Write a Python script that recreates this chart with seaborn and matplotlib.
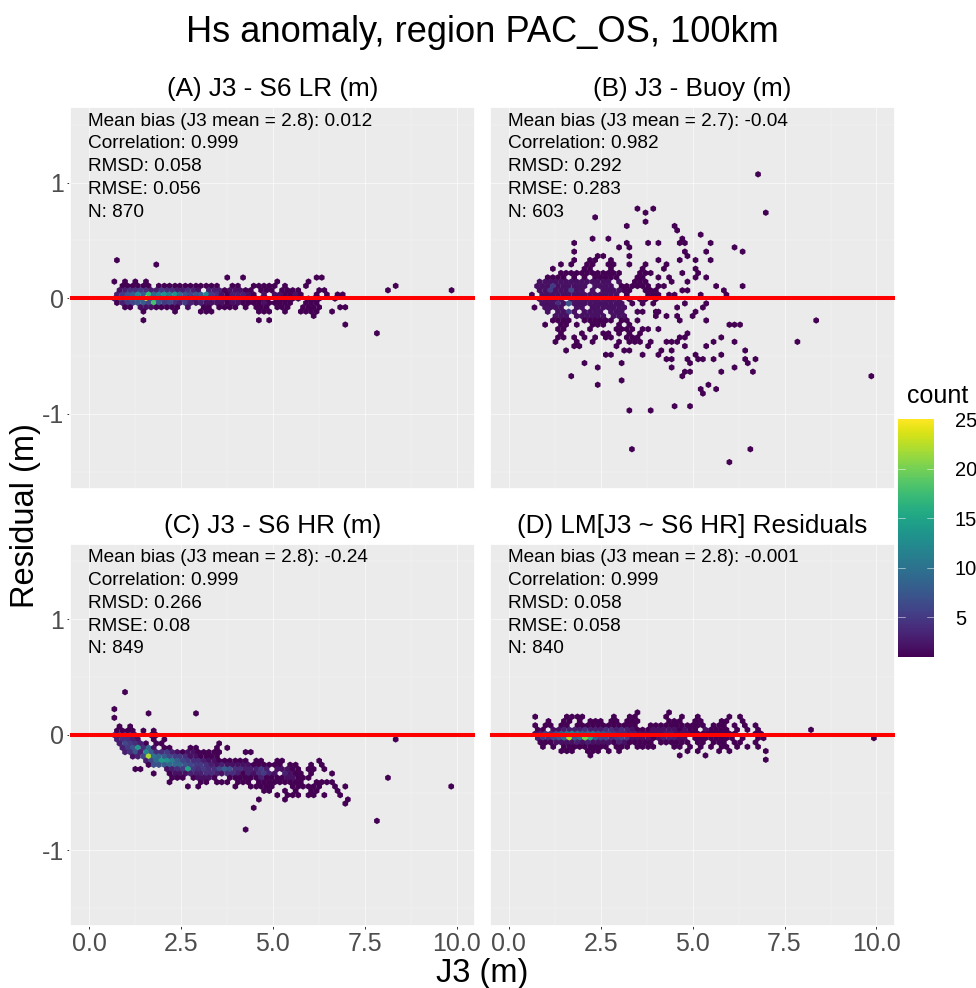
import matplotlib
matplotlib.use("Agg")
import matplotlib.pyplot as plt
import numpy as np
import pandas as pd
import seaborn as sns

# hexagon cells: (residual, [J3 ...], count or [counts])
a_rows = [
    (0.329, [0.76], 1), (0.291, [1.83], 1),
    (0.179, [3.76, 4.19, 6.19, 6.33], 1),
    (0.144, [0.69, 0.98, 1.26, 1.55, 5.12, 5.97], 1),
    (0.107, [0.91, 1.05, 1.19, 1.33, 1.48, 1.62, 1.90, 2.05, 2.19, 2.34, 2.47, 2.62, 2.76, 2.91, 3.04, 3.19, 3.33, 3.48, 3.90, 4.05, 4.48, 4.62, 4.76, 4.90, 5.05, 5.33, 5.90], 1),
    (0.069, [0.83, 0.98, 1.12, 1.26, 1.40, 1.55, 1.69, 1.83, 1.97, 2.12, 2.26, 2.40, 2.55, 2.69, 2.84, 2.97, 3.26, 3.41, 3.54, 3.69, 3.83, 3.98, 4.11, 4.26, 4.40, 4.68, 4.83, 4.97, 5.25, 5.40, 5.54, 5.69, 6.26, 6.40, 8.13],
     [2, 3, 4, 4, 5, 4, 3, 3, 5, 4, 4, 3, 3, 4, 3, 2, 3, 3, 3, 1, 2, 2, 2, 1, 1, 1, 1, 1, 1, 1, 1, 1, 1, 1, 1]),
    (0.032, [0.76, 0.91, 1.05, 1.19, 1.33, 1.48, 1.62, 1.76, 1.90, 2.05, 2.19, 2.34, 2.47, 2.62, 2.76, 2.91, 3.04, 3.19, 3.33, 3.48, 3.61, 3.76, 3.90, 4.05, 4.19, 4.33, 4.48, 4.76, 5.05, 5.19, 5.33, 5.47, 5.62, 5.76, 6.19, 6.47, 6.76, 6.90],
     [3, 5, 7, 8, 12, 8, 17, 9, 11, 13, 11, 13, 9, 7, 6, 7, 8, 12, 5, 4, 2, 1, 3, 3, 3, 2, 1, 2, 2, 2, 1, 1, 2, 1, 1, 1, 1, 1]),
    (-0.003, [0.69, 0.83, 0.98, 1.12, 1.26, 1.40, 1.55, 1.69, 1.83, 1.97, 2.12, 2.26, 2.40, 2.55, 2.69, 2.84, 2.97, 3.12, 3.26, 3.41, 3.54, 3.69, 3.83, 3.98, 4.11, 4.26, 4.40, 4.55, 4.68, 4.83, 5.12, 5.25, 5.40, 5.54, 5.69, 5.97, 6.11, 6.26, 6.69],
     [3, 6, 7, 8, 10, 10, 25, 9, 10, 7, 6, 8, 6, 6, 4, 3, 5, 6, 3, 4, 3, 2, 2, 3, 2, 2, 2, 1, 1, 1, 1, 1, 1, 1, 1, 1, 1, 1, 1]),
    (-0.040, [0.76, 0.91, 1.05, 1.19, 1.33, 1.48, 1.62, 1.76, 1.90, 2.05, 2.19, 2.34, 2.47, 2.62, 2.76, 2.91, 3.04, 3.19, 3.33, 3.48, 3.61, 3.76, 3.90, 4.05, 4.19, 4.33, 4.48, 4.62, 4.76, 4.90, 5.05, 5.19, 5.33, 5.47, 5.90, 6.04, 6.19],
     [1, 3, 5, 6, 7, 8, 6, 18, 7, 5, 6, 4, 3, 5, 3, 2, 3, 2, 2, 2, 2, 1, 2, 2, 1, 1, 1, 1, 2, 1, 1, 1, 1, 1, 1, 1, 1]),
    (-0.078, [0.98, 1.12, 1.83, 1.97, 2.12, 2.26, 2.40, 3.12, 3.26, 3.54, 3.69, 3.83, 3.98, 4.26, 4.55, 4.68, 4.83, 5.12, 5.25, 5.40, 5.82, 5.97, 6.11, 6.26, 6.83, 6.97], 1),
    (-0.078, [1.40, 1.55, 1.69, 2.69], 2),
    (-0.115, [1.48, 2.34, 3.04, 3.19, 3.33, 4.62, 4.76, 4.90, 5.33, 5.76, 5.90, 6.04, 6.19, 6.61], 1),
    (-0.153, [6.11], 1),
    (-0.190, [1.48, 4.62, 4.90], 1),
    (-0.228, [6.97], 1),
    (-0.303, [7.83], 1),
    (0.069, [9.86], 1),
    (0.107, [8.34], 1),
]

b_rows = [
    (1.072, [6.78], 1), (0.775, [3.50, 3.93], 1), (0.740, [3.72, 6.99], 1),
    (0.700, [2.35], 1), (0.662, [3.72], 1), (0.625, [3.21, 4.51], 1),
    (0.587, [4.58], 1), (0.550, [5.22], 1), (0.515, [2.28, 2.71, 4.72], 1),
    (0.478, [1.78, 3.21, 3.79, 4.07, 4.65, 4.79, 5.49], 1),
    (0.440, [3.00, 3.28, 6.14], 1),
    (0.403, [1.78, 4.79, 5.37, 6.36], 1),
    (0.365, [2.42, 2.57, 3.28, 4.86], 1),
    (0.330, [1.78, 2.21, 2.35, 2.78, 4.07, 4.65, 5.08, 5.49], 1),
    (0.293, [1.42, 1.70, 2.13, 2.28, 2.71, 2.85, 3.28, 3.72, 4.29], 1),
    (0.255, [1.20, 2.06, 2.21, 2.78, 3.64, 4.22, 5.08], 1),
    (0.218, [1.42, 1.56, 1.70, 1.85, 1.99, 2.13, 2.28, 2.42, 2.57, 2.71, 2.85, 3.00, 3.57, 3.72, 3.86, 4.72, 5.15], 1),
    (0.180, [1.06, 1.20, 1.34, 1.49, 1.78, 2.06, 2.35, 2.49, 2.64, 2.78, 2.93, 3.50, 3.64, 4.07, 4.36, 5.08, 5.37], 1),
    (0.143, [0.84, 0.99, 1.13, 1.27, 1.42, 1.56, 1.70, 1.85, 1.99, 2.13, 2.28, 2.42, 2.57, 2.71, 3.00], 2),
    (0.143, [3.43, 3.57, 3.72, 4.43, 4.86], 1),
    (0.105, [0.77, 0.91, 1.06, 1.34, 1.49, 1.63, 1.78, 1.92, 2.06, 2.35, 2.49, 2.64, 2.78], 2),
    (0.105, [1.20], 5),
    (0.105, [3.07, 3.21, 3.36, 3.50, 3.64, 3.79, 4.07, 4.22, 5.64, 6.36], 1),
    (0.068, [0.84, 0.99, 1.27, 1.42, 1.56, 1.85, 1.99, 2.28, 2.57, 2.71, 2.85, 3.00], 2),
    (0.068, [1.13], 5), (0.068, [1.70], 6),
    (0.068, [3.14, 3.28, 3.72, 3.86, 4.00, 4.72, 4.86, 5.85], 1),
    (0.030, [0.91, 1.06, 1.20, 1.34, 1.49, 1.63, 1.78, 1.92, 2.06, 2.21, 2.35, 2.49, 2.64, 2.78, 2.93], 2),
    (0.030, [0.63, 3.21, 3.79, 3.93, 4.07, 4.36, 4.51, 5.22, 5.92], 1),
    (-0.007, [0.84, 0.99, 1.13, 1.27, 1.42, 1.70, 1.85, 1.99, 2.13, 2.28, 2.42, 2.57, 2.71, 2.85, 3.00], 2),
    (-0.007, [3.28, 3.57, 3.72, 4.00], 1),
    (-0.045, [0.91, 1.06, 1.20, 1.49, 1.78, 1.92, 2.06, 2.21, 2.35, 2.49, 2.64, 2.78, 2.93, 3.07], 2),
    (-0.045, [1.34], 4), (-0.045, [1.63], 7),
    (-0.045, [3.36, 3.64, 3.93, 4.79, 5.37], 1),
    (-0.080, [0.99, 1.13, 1.27, 1.42, 1.85, 1.99, 2.28, 2.42, 2.57, 2.71, 2.85, 3.00, 3.14], 2),
    (-0.080, [0.70, 4.58, 5.28], 1),
    (-0.117, [1.06, 1.34, 1.49, 1.78, 2.06, 2.21, 2.35, 2.49, 2.78, 2.93, 3.07], 2),
    (-0.117, [1.63], 5),
    (-0.117, [3.50, 3.64, 4.00, 4.07, 5.08], 1),
    (-0.154, [1.27, 1.42, 1.56, 1.85, 1.99, 2.13, 2.28, 2.42, 2.57, 2.85, 3.00, 3.14], 2),
    (-0.154, [4.00, 4.29, 4.58, 5.00], 1),
    (-0.192, [1.20, 1.34, 1.49, 1.63, 2.06, 2.21, 2.35, 2.49, 2.64, 2.78, 3.07, 3.21], 1),
    (-0.192, [3.50, 4.65, 5.37, 8.36], 1),
    (-0.229, [0.99, 1.42, 1.56, 1.85, 2.28, 2.42, 2.57, 3.00, 3.28, 6.00, 6.14, 6.29], 1),
    (-0.267, [1.34, 1.49, 2.21, 2.93, 3.07, 3.21, 3.36, 3.64, 3.79, 4.07], 1),
    (-0.304, [1.42, 1.99, 2.57, 2.71, 3.00, 3.28, 3.57, 4.86], 1),
    (-0.339, [1.34, 1.49, 1.78, 2.06, 2.35, 2.64, 2.78, 3.21, 3.36, 3.50, 4.65, 4.79, 5.78], 1),
    (-0.377, [1.27, 1.85, 2.28, 3.00, 3.28, 3.43, 3.57, 3.86, 4.29, 4.43, 4.58, 5.57, 6.14, 7.85], 1),
    (-0.414, [1.78, 1.92, 2.93, 3.79, 4.79, 5.37], 1),
    (-0.452, [1.56, 3.14, 3.28, 4.15, 4.43, 6.43], 1),
    (-0.489, [2.64, 2.78, 3.64, 4.07, 5.08, 5.78], 1),
    (-0.527, [4.29, 4.43, 4.86, 5.15, 5.28, 5.57, 6.43, 6.71], 1),
    (-0.561, [2.06, 3.07, 4.93, 6.50], 1),
    (-0.599, [2.42, 4.43, 6.14], 1),
    (-0.636, [4.79, 4.93, 5.78, 6.64], 1),
    (-0.674, [1.70, 4.72, 9.86], 1),
    (-0.711, [3.07], 1), (-0.749, [2.42, 5.43], 1), (-0.786, [5.22, 5.64], 1),
    (-0.824, [5.28], 1), (-0.934, [4.51, 4.93], 1), (-0.971, [3.28, 3.86], 1),
    (-1.306, [3.35, 6.57], 1), (-1.418, [6.00], 1),
]

c_rows = [
    (0.369, [0.98], 1), (0.222, [0.69], 1), (0.185, [1.62, 2.91], 1),
    (0.147, [0.69], 1), (0.072, [0.83, 1.12], 1),
    (0.035, [0.76, 0.91, 1.05, 1.19, 1.48, 1.76], 1),
    (-0.003, [0.69, 0.83, 0.98, 1.12, 1.26, 1.69, 1.83], [3, 4, 4, 3, 2, 1, 1]),
    (-0.040, [0.76, 0.91, 1.05, 1.19, 1.33, 1.76, 2.05, 8.34], [3, 4, 4, 3, 2, 1, 1, 1]),
    (-0.075, [0.83, 0.98, 1.12, 1.26, 1.40, 1.55, 1.83, 1.97, 3.54], [3, 6, 5, 4, 3, 1, 1, 1, 1]),
    (-0.113, [0.91, 1.05, 1.19, 1.33, 1.48, 1.62, 1.76, 2.05, 2.19, 2.76, 2.91, 3.48, 3.76], [3, 5, 7, 14, 4, 9, 2, 1, 1, 1, 1, 1, 1]),
    (-0.150, [0.98, 1.12, 1.26, 1.40, 1.55, 1.69, 1.83, 1.97, 2.12, 2.26, 2.40, 2.55, 2.69, 2.84, 2.97, 3.12, 3.26, 3.41, 3.54, 4.26, 4.40],
     [3, 4, 7, 3, 12, 8, 4, 4, 5, 3, 2, 1, 2, 2, 1, 1, 1, 1, 1, 1, 1]),
    (-0.188, [1.19, 1.33, 1.48, 1.62, 1.76, 1.90, 2.05, 2.19, 2.34, 2.47, 2.62, 2.76, 2.91, 3.04, 3.19, 3.33, 3.48],
     [2, 3, 6, 22, 10, 9, 8, 6, 5, 5, 4, 2, 2, 1, 1, 1, 1]),
    (-0.225, [1.55, 1.69, 1.83, 1.97, 2.12, 2.26, 2.40, 2.55, 2.69, 2.84, 2.97, 3.12, 3.26, 3.41, 3.54, 3.69, 3.83, 3.98, 4.11, 4.26, 4.55, 4.68, 5.12, 5.25, 6.26],
     [3, 6, 9, 14, 13, 11, 8, 6, 5, 4, 4, 3, 2, 2, 1, 1, 1, 1, 1, 1, 1, 1, 1, 1, 1]),
    (-0.260, [1.62, 1.76, 1.90, 2.05, 2.19, 2.34, 2.47, 2.62, 2.76, 2.91, 3.04, 3.19, 3.33, 3.48, 3.61, 3.76, 3.90, 4.05, 4.19, 4.33, 4.48, 4.62, 4.76, 4.90, 5.05, 5.19, 5.47, 5.62, 6.04, 6.33],
     [1, 7, 7, 8, 9, 9, 9, 7, 6, 5, 5, 4, 3, 2, 3, 2, 2, 2, 2, 2, 1, 1, 1, 1, 1, 1, 1, 1, 1, 1]),
    (-0.297, [1.26, 1.40, 2.12, 2.26, 2.40, 2.55, 2.69, 2.84, 2.97, 3.12, 3.26, 3.41, 3.54, 3.69, 3.83, 3.98, 4.11, 4.26, 4.40, 4.55, 4.68, 4.83, 5.12, 5.25, 5.40, 5.54, 5.69, 5.97, 6.11, 6.40],
     [1, 1, 2, 3, 4, 5, 15, 5, 4, 5, 4, 4, 6, 8, 7, 4, 4, 3, 3, 3, 5, 3, 2, 2, 2, 1, 1, 1, 1, 1]),
    (-0.335, [1.76, 2.19, 2.34, 2.47, 2.62, 2.76, 2.91, 3.04, 3.19, 3.33, 3.48, 3.61, 3.76, 3.90, 4.05, 4.19, 4.33, 4.48, 4.62, 4.76, 4.90, 5.05, 5.33, 5.47, 5.62, 5.76, 6.04, 6.61],
     [1, 1, 2, 2, 2, 3, 3, 3, 4, 4, 3, 2, 4, 4, 3, 1, 3, 2, 4, 5, 3, 2, 3, 2, 1, 1, 1, 1]),
    (-0.372, [2.26, 2.40, 2.55, 2.84, 2.97, 3.12, 3.26, 3.41, 3.83, 3.98, 4.11, 4.26, 4.40, 4.55, 4.68, 4.83, 4.97, 5.12, 5.25, 5.40, 5.54, 5.69, 5.82, 5.97, 8.13],
     [1, 1, 1, 1, 2, 2, 2, 1, 1, 1, 1, 1, 1, 1, 3, 1, 1, 1, 1, 2, 2, 1, 1, 1, 1]),
    (-0.410, [2.19, 3.04, 3.19, 3.48, 3.61, 3.76, 4.05, 4.19, 4.33, 4.62, 4.76, 4.90, 5.05, 5.19, 5.33, 5.47, 5.62, 5.76, 6.19, 6.33, 6.47, 6.61], 1),
    (-0.447, [2.69, 2.97, 3.98, 4.40, 4.55, 4.68, 4.83, 4.97, 5.54, 5.69, 5.82, 5.97, 6.11, 6.26, 6.69, 6.97, 9.85], 1),
    (-0.485, [4.76, 4.90, 5.33, 5.62, 6.04, 6.19, 6.76], 1),
    (-0.522, [5.12, 5.40, 5.54, 5.69, 5.97, 6.11, 6.40, 6.83], 1),
    (-0.560, [4.62, 5.33, 7.04], 1), (-0.595, [6.97], 1), (-0.632, [4.48], 1),
    (-0.745, [7.83], 1), (-0.820, [4.26], 1),
]

d_rows = [
    (0.193, [3.50, 4.36], 1),
    (0.156, [0.72, 1.58, 1.72, 1.87, 2.00, 2.86, 3.29, 3.43, 4.28, 4.71, 5.14, 6.00, 6.29], 1),
    (0.118, [1.08, 1.50, 1.65, 1.93, 2.22, 2.36, 2.50, 2.79, 2.93, 3.22, 3.36, 3.50, 4.36, 4.50, 4.65, 5.07, 5.22, 5.79, 5.92, 6.36], 1),
    (0.081, [0.72, 1.00, 1.14, 1.43, 1.58, 1.87, 2.00, 2.15, 2.29, 2.43, 2.57, 2.72, 2.86, 3.00, 3.14, 3.29, 3.43, 3.86, 4.00, 4.14, 4.28, 4.43, 4.57, 4.71, 4.86, 5.00, 5.14, 5.28, 5.57, 5.72, 5.85, 6.14, 6.42, 6.71], 1),
    (0.043, [0.79, 0.93, 1.21, 1.36, 1.50, 1.65, 1.79, 1.93, 2.07, 2.22, 2.36, 2.50, 2.64, 2.79, 2.93, 3.07, 3.22, 3.36, 3.50, 3.64, 3.79, 3.93, 4.08, 4.21, 4.36, 4.50, 4.65, 4.78, 4.93, 5.07, 5.35, 5.50, 5.64, 5.79, 5.92, 6.21, 6.49, 6.78, 8.22],
     [1, 1, 2, 2, 3, 3, 3, 3, 4, 3, 3, 3, 4, 4, 3, 4, 3, 2, 1, 1, 1, 2, 2, 2, 2, 2, 1, 2, 1, 1, 2, 1, 1, 1, 1, 1, 1, 1, 1]),
    (0.009, [0.72, 0.86, 1.00, 1.14, 1.29, 1.43, 1.58, 1.72, 1.87, 2.00, 2.15, 2.29, 2.43, 2.57, 2.72, 2.86, 3.00, 3.14, 3.29, 3.43, 3.57, 3.71, 3.86, 4.00, 4.14, 4.28, 4.43, 4.57, 4.71, 4.86, 5.00, 5.14, 5.28, 5.43, 5.57, 5.72, 5.85, 6.00, 6.14, 6.71, 6.86],
     [2, 3, 5, 4, 6, 8, 10, 12, 10, 8, 9, 10, 8, 7, 6, 5, 4, 4, 3, 3, 2, 2, 2, 2, 2, 3, 3, 2, 2, 2, 1, 1, 1, 1, 1, 1, 1, 1, 1, 1, 1]),
    (-0.029, [0.79, 0.93, 1.08, 1.21, 1.36, 1.50, 1.65, 1.79, 1.93, 2.07, 2.22, 2.36, 2.50, 2.64, 2.79, 2.93, 3.07, 3.22, 3.36, 3.50, 3.64, 3.79, 3.93, 4.08, 4.21, 4.36, 4.50, 4.65, 4.78, 5.07, 5.22, 5.35, 5.50, 5.64, 5.79, 5.92, 6.07, 6.36, 6.78, 6.93, 9.93],
     [3, 5, 4, 6, 7, 9, 22, 8, 10, 20, 16, 8, 6, 6, 4, 5, 6, 5, 2, 2, 2, 2, 1, 2, 3, 3, 3, 2, 2, 1, 1, 1, 1, 1, 1, 1, 1, 1, 1, 1, 1]),
    (-0.066, [0.86, 1.00, 1.14, 2.86, 3.29, 3.43, 3.57, 3.71, 3.86, 4.14, 4.28, 4.43, 4.57, 4.71, 4.86, 5.14, 5.28, 5.57, 5.72, 5.85, 6.14, 6.29, 6.71], 1),
    (-0.066, [1.29, 1.43, 1.58, 1.72, 2.00, 2.29, 2.43, 2.57, 2.72, 3.14], 2),
    (-0.066, [1.87, 2.15, 3.00], 3),
    (-0.104, [0.93, 1.21, 1.50, 1.65, 1.79, 1.93, 2.07, 2.22, 2.36, 2.50, 2.64, 2.93, 3.07, 3.22, 3.50, 3.64, 3.79, 3.93, 4.50, 4.65, 4.93, 5.22, 5.50, 5.79, 5.92, 6.21, 6.49, 6.78], 1),
    (-0.141, [1.43, 1.58, 1.72, 2.15, 2.29, 2.43, 2.72, 3.00, 4.86, 5.14, 5.72, 6.00, 6.99], 1),
    (-0.179, [2.22, 4.65, 5.35], 1),
    (-0.216, [6.99], 1),
]

panel_titles = ["(A) J3 - S6 LR (m)", "(B) J3 - Buoy (m)",
                "(C) J3 - S6 HR (m)", "(D) LM[J3 ~ S6 HR] Residuals"]
panel_stats = [
    ["Mean bias (J3 mean = 2.8): 0.012", "Correlation: 0.999", "RMSD: 0.058", "RMSE: 0.056", "N: 870"],
    ["Mean bias (J3 mean = 2.7): -0.04", "Correlation: 0.982", "RMSD: 0.292", "RMSE: 0.283", "N: 603"],
    ["Mean bias (J3 mean = 2.8): -0.24", "Correlation: 0.999", "RMSD: 0.266", "RMSE: 0.08", "N: 849"],
    ["Mean bias (J3 mean = 2.8): -0.001", "Correlation: 0.999", "RMSD: 0.058", "RMSE: 0.058", "N: 840"],
]
x_ticks = [0.0, 2.5, 5.0, 7.5, 10.0]
x_minor = [1.25, 3.75, 6.25, 8.75]
y_ticks = [-1, 0, 1]
y_minor = [-1.5, -0.5, 0.5, 1.5]
count_ticks = [5, 10, 15, 20, 25]


def cells(rows):
    out = []
    for y, xs, ns in rows:
        if np.isscalar(ns):
            ns = [ns] * len(xs)
        out.extend({"x": x, "y": y, "n": n} for x, n in zip(xs, ns))
    return pd.DataFrame(out)


sns.set_theme(style="darkgrid", rc={
    "axes.facecolor": "#EBEBEB",
    "text.color": "black",
    "grid.color": "white",
    "xtick.bottom": True,
    "ytick.left": True,
    "xtick.color": "#333333",
    "ytick.color": "#333333",
    "xtick.major.size": 2.5,
    "ytick.major.size": 2.5,
    "xtick.major.width": 0.7,
    "ytick.major.width": 0.7,
})
plt.rcParams["font.family"] = ["Liberation Sans", "DejaVu Sans"]

fig, axes = plt.subplots(2, 2, figsize=(9.76, 9.88), sharex=True, sharey=True)
fig.subplots_adjust(left=70 / 976, right=894.5 / 976, top=1 - 107.5 / 988,
                    bottom=1 - 925.5 / 988, wspace=15 / 404.5, hspace=55 / 381)

for ax, rows, title, stats in zip(axes.flat, [a_rows, b_rows, c_rows, d_rows],
                                  panel_titles, panel_stats):
    sns.scatterplot(data=cells(rows), x="x", y="y", hue="n", hue_norm=(1, 25),
                    palette="viridis", marker="h", s=22, linewidth=0,
                    legend=False, ax=ax, zorder=3)
    ax.axhline(0, color="red", lw=2.9, zorder=4)
    ax.set_xlim(-0.516, 10.49)
    ax.set_ylim(-1.65, 1.65)
    ax.set_xticks(x_ticks, [f"{v:.1f}" for v in x_ticks])
    ax.set_yticks(y_ticks, [str(v) for v in y_ticks])
    ax.set_xticks(x_minor, minor=True)
    ax.set_yticks(y_minor, minor=True)
    ax.grid(which="major", color="white", lw=0.5, alpha=0.8)
    ax.grid(which="minor", color="white", lw=0.3, alpha=0.7)
    ax.tick_params(which="minor", length=0)
    ax.tick_params(which="major", labelsize=18, labelcolor="#4D4D4D", pad=2)
    ax.set_xlabel("")
    ax.set_ylabel("")
    ax.set_title(title, fontsize=18.8, color="black", pad=8)
    for i, line in enumerate(stats):
        ax.text(0.044, 0.9645 - i * 0.0598, line, transform=ax.transAxes,
                fontsize=13.67, color="black", va="center", ha="left", zorder=5)

# ticks only on the outer edges
for ax in axes[0]:
    ax.tick_params(axis="x", which="both", bottom=False)
for ax in axes[:, 1]:
    ax.tick_params(axis="y", which="both", left=False)

fig.text(482 / 976, 1 - 33 / 988, "Hs anomaly, region PAC_OS, 100km",
         fontsize=26.1, ha="center", va="center")
fig.text(482 / 976, 1 - 973 / 988, "J3 (m)", fontsize=23.5, ha="center", va="center")
fig.text(26 / 976, 1 - 516 / 988, "Residual (m)", fontsize=23.5, rotation=90,
         ha="center", va="center")

# colour bar
cax = fig.add_axes([898 / 976, 1 - 657 / 988, 36 / 976, 238 / 988])
sm = plt.cm.ScalarMappable(norm=plt.Normalize(1, 25), cmap="viridis")
cbar = fig.colorbar(sm, cax=cax, ticks=count_ticks)
cbar.outline.set_visible(False)
cbar.ax.grid(False)
cbar.ax.tick_params(size=0, labelsize=14.5, labelcolor="black", pad=15)
for v in count_ticks[:-1]:
    cax.plot([0, 0.2], [v, v], color="white", lw=0.5, alpha=0.7, transform=cax.get_yaxis_transform())
    cax.plot([0.8, 1], [v, v], color="white", lw=0.5, alpha=0.7, transform=cax.get_yaxis_transform())
cax.set_ylim(1, 25)
fig.text(907 / 976, 1 - 396 / 988, "count", fontsize=18, ha="left", va="center")

fig.savefig("out.png", dpi=100)
